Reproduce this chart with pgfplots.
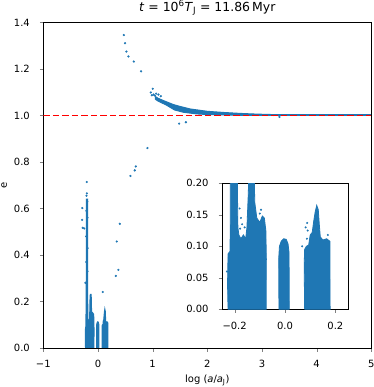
\documentclass[border=0pt]{standalone}
\usepackage{fontspec}
\setmainfont{DejaVu Sans}
\usepackage{pgfplots}
\pgfplotsset{compat=1.18}
\definecolor{tabblue}{RGB}{31,119,180}
\begin{document}
\begin{tikzpicture}
\path[use as bounding box] (0,0) rectangle (374bp,387bp);
\begin{axis}[
  scale only axis,
  at={(43.3bp,39bp)}, anchor=south west,
  width=328bp, height=325.5bp,
  xmin=-1, xmax=5, ymin=0, ymax=1.4,
  axis line style={line width=0.8bp},
  major tick length=3.5bp,
  tick align=outside, tick pos=left,
  xtick={-1,0,1,2,3,4,5},
  xticklabels={−1,0,1,2,3,4,5},
  ytick={0,0.2,0.4,0.6,0.8,1.0,1.2,1.4},
  yticklabels={0.0,0.2,0.4,0.6,0.8,1.0,1.2,1.4},
  yticklabel style={xshift=-6.5bp, font=\fontsize{10}{12}\selectfont},
  xticklabel style={yshift=-5.5bp, font=\fontsize{10}{12}\selectfont},
  label style={font=\fontsize{10}{12}\selectfont},
  xlabel={log (\textit{a}/\textit{a}\textsubscript{J})},
  ylabel={e},
  title={\textit{t} = 10\textsuperscript{6}\textit{T}\textsubscript{J} = 11.86\,Myr},
  title style={font=\fontsize{12.5}{14}\selectfont, yshift=-2bp},
]
% dense clumps near a = aJ
\addplot[color=tabblue, fill=tabblue, line width=1.2bp, mark=none] coordinates {
(-0.226,0.000) (-0.228,0.040) (-0.226,0.088) (-0.218,0.092) (-0.217,0.150) (-0.217,0.200)
(-0.214,0.250) (-0.212,0.300) (-0.212,0.640) (-0.192,0.640) (-0.192,0.300) (-0.191,0.240)
(-0.189,0.200) (-0.187,0.130) (-0.183,0.118) (-0.175,0.112) (-0.165,0.118) (-0.156,0.112)
(-0.151,0.130) (-0.146,0.180) (-0.143,0.220) (-0.138,0.230) (-0.128,0.230) (-0.122,0.210)
(-0.120,0.170) (-0.112,0.145) (-0.100,0.138) (-0.090,0.148) (-0.082,0.145) (-0.076,0.125)
(-0.074,0.080) (-0.075,0.000) (-0.226,0.000)};
\addplot[color=tabblue, fill=tabblue, line width=1.2bp, mark=none] coordinates {
(-0.024,0.000) (-0.025,0.080) (-0.022,0.100) (-0.015,0.108) (-0.005,0.112) (0.005,0.111)
(0.012,0.104) (0.016,0.090) (0.017,0.000) (-0.024,0.000)};
\addplot[color=tabblue, fill=tabblue, line width=1.2bp, mark=none] coordinates {
(0.078,0.000) (0.076,0.070) (0.078,0.095) (0.085,0.100) (0.094,0.102) (0.100,0.118)
(0.108,0.122) (0.114,0.140) (0.120,0.155) (0.126,0.165) (0.132,0.158) (0.136,0.135)
(0.140,0.115) (0.150,0.110) (0.165,0.112) (0.178,0.108) (0.179,0.000) (0.078,0.000)};
% band of orbits approaching e = 1
\addplot[color=tabblue, fill=tabblue, line width=1.0bp, mark=none] coordinates {
(1.05,1.082) (1.10,1.074) (1.20,1.064) (1.38,1.047) (1.50,1.039) (1.69,1.028) (2.00,1.018)
(2.30,1.013) (2.60,1.009) (2.90,1.006) (3.20,1.004) (3.20,1.000) (2.60,1.001) (2.00,1.004)
(1.80,1.007) (1.56,1.014) (1.40,1.024) (1.25,1.045) (1.10,1.062) (1.05,1.070) (1.05,1.082)};
\addplot[color=tabblue, line width=2.4bp, mark=none] coordinates {(2.9,1.002) (5,1.002)};
\addplot[color=red, line width=1.8bp, dash pattern=on 6.5bp off 3bp, mark=none] coordinates {(-1,1) (5,1)};
% sparse points
\addplot[color=tabblue, only marks, mark=*, mark size=0.9bp] coordinates {
(0.473,1.346) (0.496,1.311) (0.520,1.275) (0.557,1.254) (0.656,1.232) (0.789,1.190)
(0.967,1.099) (1.003,1.115) (0.985,1.087) (1.015,1.090) (1.040,1.086) (1.064,1.094)
(1.106,1.090) (1.150,1.083) (1.485,0.965) (1.608,0.971) (3.320,0.994) (0.905,0.860)
(0.692,0.781) (0.673,0.764) (0.594,0.740) (0.399,0.534) (0.344,0.458) (0.374,0.336)
(0.326,0.310) (0.087,0.241) (-0.205,0.714) (-0.286,0.602) (-0.290,0.551) (-0.280,0.517)
(-0.250,0.514) (-0.202,0.665) (-0.210,0.655) (-0.195,0.630) (-0.212,0.590) (-0.192,0.560)
(-0.214,0.480) (-0.190,0.430) (-0.213,0.370) (-0.191,0.330) (-0.230,0.280)};
\end{axis}
\begin{axis}[
  scale only axis,
  at={(222bp,77.7bp)}, anchor=south west,
  width=126bp, height=126bp,
  axis background/.style={fill=white},
  axis line style={line width=0.8bp},
  major tick length=3.5bp,
  tick align=outside, tick pos=left,
  xmin=-0.25, xmax=0.25, ymin=0, ymax=0.2,
  xtick={-0.2,0,0.2},
  xticklabels={−0.2,0.0,0.2},
  ytick={0,0.05,0.1,0.15,0.2},
  yticklabels={0.00,0.05,0.10,0.15,0.20},
  yticklabel style={xshift=-6.5bp, font=\fontsize{10}{12}\selectfont},
  xticklabel style={yshift=-5.5bp, font=\fontsize{10}{12}\selectfont},
]
\addplot[color=tabblue, fill=tabblue, line width=0.8bp, mark=none] coordinates {
(-0.226,0.000) (-0.228,0.040) (-0.226,0.088) (-0.218,0.092) (-0.217,0.150) (-0.217,0.200)
(-0.214,0.250) (-0.208,0.300) (-0.196,0.300) (-0.191,0.240)
(-0.189,0.200) (-0.187,0.130) (-0.183,0.118) (-0.175,0.112) (-0.165,0.118) (-0.156,0.112)
(-0.151,0.130) (-0.146,0.180) (-0.143,0.220) (-0.138,0.230) (-0.128,0.230) (-0.122,0.210)
(-0.120,0.170) (-0.112,0.145) (-0.100,0.138) (-0.090,0.148) (-0.082,0.145) (-0.076,0.125)
(-0.074,0.080) (-0.075,0.000) (-0.226,0.000)};
\addplot[color=tabblue, fill=tabblue, line width=0.8bp, mark=none] coordinates {
(-0.024,0.000) (-0.025,0.080) (-0.022,0.100) (-0.015,0.108) (-0.005,0.112) (0.005,0.111)
(0.012,0.104) (0.016,0.090) (0.017,0.000) (-0.024,0.000)};
\addplot[color=tabblue, fill=tabblue, line width=0.8bp, mark=none] coordinates {
(0.078,0.000) (0.076,0.070) (0.078,0.095) (0.085,0.100) (0.094,0.102) (0.100,0.118)
(0.108,0.122) (0.114,0.140) (0.120,0.155) (0.126,0.165) (0.132,0.158) (0.136,0.135)
(0.140,0.115) (0.150,0.110) (0.165,0.112) (0.178,0.108) (0.179,0.000) (0.078,0.000)};
\addplot[color=tabblue, only marks, mark=*, mark size=0.8bp] coordinates {
(-0.180,0.160) (-0.175,0.145) (-0.170,0.135) (-0.178,0.128) (-0.160,0.130)
(0.068,0.100) (0.082,0.130) (0.088,0.137) (0.090,0.125) (0.087,0.112)
(-0.100,0.152) (-0.095,0.158) (-0.230,0.060) (0.170,0.118)};
\end{axis}
\end{tikzpicture}
\end{document}
